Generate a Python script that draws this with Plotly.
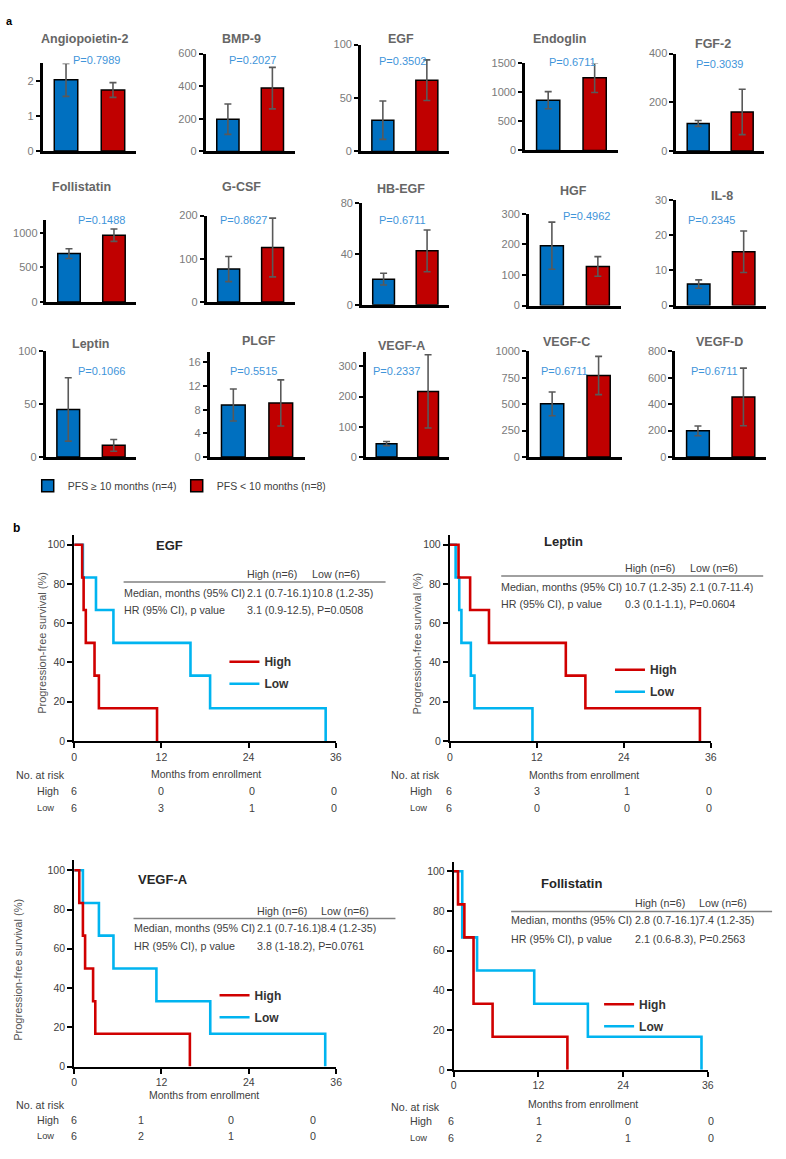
import plotly.graph_objects as go

W, H = 786, 1159

# ---------------- data: panel a ----------------
markers = ["Angiopoietin-2", "BMP-9", "EGF", "Endoglin", "FGF-2",
           "Follistatin", "G-CSF", "HB-EGF", "HGF", "IL-8",
           "Leptin", "PLGF", "VEGF-A", "VEGF-C", "VEGF-D"]
p_values = ["P=0.7989", "P=0.2027", "P=0.3502", "P=0.6711", "P=0.3039",
            "P=0.1488", "P=0.8627", "P=0.6711", "P=0.4962", "P=0.2345",
            "P=0.1066", "P=0.5515", "P=0.2337", "P=0.6711", "P=0.6711"]
long_pfs_mean = [2.03, 198, 29.3, 867, 113, 700, 76, 20.2, 196, 6.1, 45, 8.8, 44, 503, 198]
long_pfs_err = [0.47, 93, 18, 147, 12, 71, 29, 4.6, 77, 1.2, 30, 2.7, 7, 113, 37]
short_pfs_mean = [1.74, 388, 66.7, 1253, 160, 967, 126, 42.4, 128, 15.3, 11, 9.15, 217, 772, 455]
short_pfs_err = [0.21, 127, 19, 255, 93, 90, 68, 16.4, 32, 5.9, 5.6, 3.9, 121, 181, 218]
y_max = [2.5, 600, 100, 1500, 400, 1190, 200, 80, 300, 30, 100, 17.7, 346, 1000, 800]
y_dtick = [1, 200, 50, 500, 200, 500, 100, 40, 100, 10, 50, 4, 100, 250, 200]
group_names = ["PFS \u2265 10 months (n=4)", "PFS < 10 months (n=8)"]

# ---------------- data: panel b ----------------
km_panels = ["EGF", "Leptin", "VEGF-A", "Follistatin"]
high_months = [[0, 1.1, 1.3, 1.6, 2.8, 3.4, 11.4],
               [0, 1.2, 2.8, 5.4, 16.0, 18.7, 34.5],
               [0, 0.7, 1.2, 1.5, 2.6, 2.9, 15.9],
               [0, 0.6, 1.5, 2.8, 5.5, 16.1]]
high_surv = [[100, 83.3, 66.7, 50, 33.3, 16.7, 0],
             [100, 83.3, 66.7, 50, 33.3, 16.7, 0],
             [100, 83.3, 66.7, 50, 33.3, 16.7, 0],
             [100, 83.3, 66.7, 33.3, 16.7, 0]]
low_months = [[0, 1.2, 3.0, 5.4, 16.0, 18.7, 34.6],
              [0, 0.8, 1.3, 1.6, 2.9, 3.4, 11.4],
              [0, 1.2, 3.4, 5.4, 11.3, 18.7, 34.5],
              [0, 1.2, 3.3, 11.4, 19.0, 35.1]]
low_surv = [[100, 83.3, 66.7, 50, 33.3, 16.7, 0],
            [100, 83.3, 66.7, 50, 33.3, 16.7, 0],
            [100, 83.3, 66.7, 50, 33.3, 16.7, 0],
            [100, 66.7, 50, 33.3, 16.7, 0]]
median_high = ["2.1 (0.7-16.1)", "10.7 (1.2-35)", "2.1 (0.7-16.1)", "2.8 (0.7-16.1)"]
median_low = ["10.8 (1.2-35)", "2.1 (0.7-11.4)", "8.4 (1.2-35)", "7.4 (1.2-35)"]
hr_text = ["3.1 (0.9-12.5), P=0.0508", "0.3 (0.1-1.1), P=0.0604",
           "3.8 (1-18.2), P=0.0761", "2.1 (0.6-8.3), P=0.2563"]
risk_high = [[6, 0, 0, 0], [6, 3, 1, 0], [6, 1, 0, 0], [6, 1, 0, 0]]
risk_low = [[6, 3, 1, 0], [6, 0, 0, 0], [6, 2, 1, 0], [6, 2, 1, 0]]
month_ticks = [0, 12, 24, 36]

# ---------------- layout geometry (pixels) ----------------
bar_boxes = [(40, 135, 58, 146.5), (205, 295, 48, 147), (362, 451, 39, 147),
             (528, 622, 58, 146), (681, 770, 48, 146.5),
             (44, 135, 216, 299), (206, 295, 211.7, 299), (363, 451, 199, 302),
             (532, 625, 210, 302.7), (681, 772, 196, 302.7),
             (43, 135, 349, 455.7), (209, 305, 350, 455.7), (367, 451, 350, 455.7),
             (532, 626, 349, 455.7), (680, 772, 349, 455.7)]
title_pos = [(83, 33), (241, 33), (403, 33), (563, 33), (718, 38),
             (79, 183), (241, 183), (403, 185), (577, 187), (727, 192),
             (89, 342), (259, 339), (403, 344), (570, 340), (725, 340)]
p_pos = [(95, 55), (252, 55), (404, 56), (576, 57), (725, 59),
         (100, 216), (243, 216), (404, 216), (590, 212), (717, 216),
         (100, 369), (253, 369), (398, 369), (568, 369), (720, 369)]

km_boxes = [(72, 336.7, 535, 742.7, 104.7), (452, 716, 535, 742.7, 104.7),
            (72, 337, 863, 1071.7, 105.2), (456, 713, 865, 1075, 104.6)]
km_title_pos = [(168, 545), (567, 541), (162, 883), (575, 887)]
km_table = [  # left, right, x_high, x_low, y_head, y_rule, y_row1, y_row2
    (122, 387, 247, 313, 574, 582, 593, 610),
    (504, 769, 629, 695, 568, 576, 587, 604),
    (132, 397, 257, 322, 914, 922, 932, 950),
    (514, 778, 639, 704, 906, 915, 924, 943)]
km_legend_pos = [(224, 648), (614, 656), (214, 985), (603, 994)]
km_ytitle_pos = [(40, 644), (419, 644), (15, 974), None]
km_xtitle_pos = [(205, 776), (588, 777), (203, 1100), (587, 1109)]
km_risk_pos = [  # x_label_col, x_sub, y_head, y_high, y_low, number x positions
    (13, 34, 777, 793, 810, (72, 160, 252, 335)),
    (392, 412, 777, 793, 810, (451, 540, 631, 714)),
    (13, 34, 1111, 1126, 1142, (72, 140, 231, 314)),
    (392, 412, 1113, 1127, 1144, (453, 542, 632, 716))]

FONT = "Arial, Liberation Sans, sans-serif"
BLUE_BAR, RED_BAR = "#0070C0", "#C00000"
KM_RED, KM_BLUE = "#D00000", "#00B4F0"
TXT = 10.7


def xd(a, b):
    return [a / W, b / W]


def yd(top, bot):
    return [1 - bot / H, 1 - top / H]


def px(x):
    return x / W


def py(y):
    return 1 - y / H


fig = go.Figure()
annotations = []
shapes = []


def ann(text, x, y, size=11, color="#404040", xanchor="center", yanchor="middle", angle=0):
    if xanchor == "left":
        x -= 2
    annotations.append(dict(text=text, x=px(x), y=py(y), xref="paper", yref="paper",
                            xanchor=xanchor, yanchor=yanchor, showarrow=False,
                            textangle=angle, font=dict(family=FONT, size=size, color=color)))


layout_axes = {}

# ---------------- panel a: bar charts ----------------
for i, name in enumerate(markers):
    k = i + 1
    xa = "x" if k == 1 else f"x{k}"
    ya = "y" if k == 1 else f"y{k}"
    x0, x1, yt, yb = bar_boxes[i]
    for g, (means, errs, col) in enumerate([(long_pfs_mean, long_pfs_err, BLUE_BAR),
                                            (short_pfs_mean, short_pfs_err, RED_BAR)]):
        fig.add_trace(go.Bar(
            x=[g], y=[means[i]], width=0.5, name=group_names[g],
            marker=dict(color=col, line=dict(color="black", width=1.5)),
            error_y=dict(type="data", array=[errs[i]], color="#595959", thickness=1.6, width=3.5),
            xaxis=xa, yaxis=ya, showlegend=(i == 0), legend="legend",
        ))
    layout_axes["xaxis" if k == 1 else f"xaxis{k}"] = dict(
        domain=xd(x0, x1), range=[-0.5, 1.5], anchor=ya, showline=True, linecolor="black",
        linewidth=2.5, showticklabels=False, ticks="", showgrid=False, zeroline=False, fixedrange=True)
    layout_axes["yaxis" if k == 1 else f"yaxis{k}"] = dict(
        domain=yd(yt, yb), range=[0, y_max[i]], anchor=xa, showline=True, linecolor="black",
        linewidth=2.5, ticks="outside", ticklen=4, tickwidth=1.5, tickcolor="black",
        dtick=y_dtick[i], tick0=0, showgrid=False, zeroline=False,
        tickfont=dict(family=FONT, size=11, color="#7a7a7a"))
    tx, ty = title_pos[i]
    ann(f"<b>{name}</b>", tx, ty, size=12.5, color="#666666")
    ppx, ppy = p_pos[i]
    ann(p_values[i], ppx, ppy, size=11, color="#3F95DA")

# ---------------- panel b: Kaplan-Meier ----------------
for j, name in enumerate(km_panels):
    k = 16 + j
    xa, ya = f"x{k}", f"y{k}"
    leg = f"legend{j + 2}"
    x0, x1, yt, yb, ytop = km_boxes[j]
    fig.add_trace(go.Scatter(
        x=low_months[j], y=low_surv[j], mode="lines", line=dict(color=KM_BLUE, width=2.6, shape="hv"),
        name="<b>Low</b>", legend=leg, legendrank=2, legendgroup=f"low{j}", xaxis=xa, yaxis=ya))
    fig.add_trace(go.Scatter(
        x=high_months[j], y=high_surv[j], mode="lines", line=dict(color=KM_RED, width=2.6, shape="hv"),
        name="<b>High</b>", legend=leg, legendrank=1, legendgroup=f"high{j}", xaxis=xa, yaxis=ya))
    layout_axes[f"xaxis{k}"] = dict(
        domain=xd(x0, x1), range=[0, 36], anchor=ya, showline=True, linecolor="black", linewidth=2,
        ticks="outside", ticklen=5, tickwidth=1.5, tickcolor="black", tickvals=month_ticks,
        showgrid=False, zeroline=False, tickfont=dict(family=FONT, size=10.5, color="#404040"))
    layout_axes[f"yaxis{k}"] = dict(
        domain=yd(yt, yb), range=[0, ytop], anchor=xa, showline=True, linecolor="black", linewidth=2,
        ticks="outside", ticklen=5, tickwidth=1.5, tickcolor="black", tickvals=[0, 20, 40, 60, 80, 100],
        showgrid=False, zeroline=False, tickfont=dict(family=FONT, size=10.5, color="#404040"))
    lx, ly = km_legend_pos[j]
    layout_axes[leg] = dict(x=px(lx), y=py(ly), xanchor="left", yanchor="top", bgcolor="rgba(0,0,0,0)",
                            font=dict(family=FONT, size=12, color="#333333"), tracegroupgap=3,
                            itemwidth=30)
    tx, ty = km_title_pos[j]
    ann(f"<b>{name}</b>", tx, ty, size=13, color="#262626")
    tl, tr, xh, xlw, yh, yr, y1, y2 = km_table[j]
    ann("High (n=6)", xh, yh, size=TXT, xanchor="left")
    ann("Low (n=6)", xlw, yh, size=TXT, xanchor="left")
    shapes.append(dict(type="line", xref="paper", yref="paper", x0=px(tl), x1=px(tr), y0=py(yr), y1=py(yr),
                       line=dict(color="#808080", width=1.5)))
    ann("Median, months (95% CI)", tl, y1, size=TXT, xanchor="left")
    ann(median_high[j], xh, y1, size=TXT, xanchor="left")
    ann(median_low[j], xlw, y1, size=TXT, xanchor="left")
    ann("HR (95% CI), p value", tl, y2, size=TXT, xanchor="left")
    ann(hr_text[j], xh, y2, size=TXT, xanchor="left")
    if km_ytitle_pos[j] is not None:
        ax_, ay_ = km_ytitle_pos[j]
        ann("Progression-free survival (%)", ax_, ay_, size=11, color="#555555", angle=-90)
    mx, my = km_xtitle_pos[j]
    ann("Months from enrollment", mx, my, size=10.5, color="#404040")
    rl, rs, rh, rhi, rlo, nxs = km_risk_pos[j]
    ann("No. at risk", rl, rh, size=TXT, xanchor="left")
    ann("High", rs, rhi, size=TXT, xanchor="left")
    ann("Low", rs, rlo, size=9.3, xanchor="left")
    for n, nx in enumerate(nxs):
        ann(str(risk_high[j][n]), nx, rhi, size=TXT)
        ann(str(risk_low[j][n]), nx, rlo, size=TXT)

ann("<b>a</b>", 7, 15, size=11, color="black")
ann("<b>b</b>", 14, 527, size=12, color="black")

fig.update_layout(
    width=W, height=H, autosize=False,
    margin=dict(l=0, r=0, t=0, b=0),
    paper_bgcolor="white", plot_bgcolor="white",
    barmode="overlay", showlegend=True,
    legend=dict(orientation="h", x=px(25), y=py(470), xanchor="left", yanchor="top",
                entrywidth=104, entrywidthmode="pixels",
                font=dict(family=FONT, size=10.5, color="#404040"), bgcolor="rgba(0,0,0,0)"),
    annotations=annotations, shapes=shapes,
    **layout_axes,
)

fig.write_html("out.html", config={"displayModeBar": False},
               post_script="document.body.style.margin='0';")
